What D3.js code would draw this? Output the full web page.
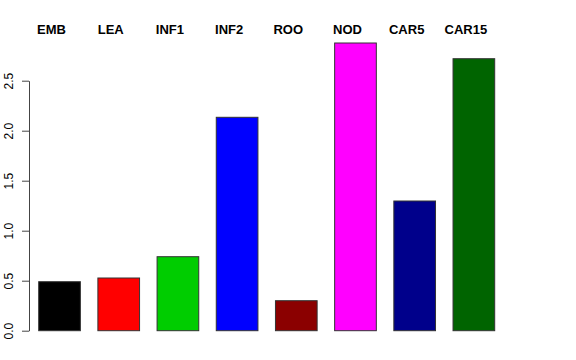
<!DOCTYPE html>
<html>
<head>
  <meta charset="utf-8">
  <script src="https://d3js.org/d3.v7.min.js"></script>
  <style>
    body { margin: 0; background: #fff; }
    .chart { display: block; }
    .label { font-family: "Liberation Sans", Arial, sans-serif; font-weight: bold; font-size: 13px; text-anchor: middle; }
    .tick-label { font-family: "Liberation Sans", Arial, sans-serif; font-size: 12px; }
  </style>
</head>
<body>
  <svg class="chart" width="576" height="360"></svg>
  <script>
    // data
    const categories = ["EMB", "LEA", "INF1", "INF2", "ROO", "NOD", "CAR5", "CAR15"];
    const values     = [0.49, 0.527, 0.74, 2.134, 0.30, 2.877, 1.297, 2.72];
    const colors     = ["#000000", "#FF0000", "#00CD00", "#0000FF", "#8B0000", "#FF00FF", "#00008B", "#006400"];
    const yTicks     = [0, 0.5, 1, 1.5, 2, 2.5];

    const svg = d3.select(".chart");

    const xScale = d3.scaleBand()
      .domain(categories)
      .range([38.7, 494.7])
      .paddingInner(0.296)
      .paddingOuter(0);

    const yScale = d3.scaleLinear().domain([0, 2.5]).range([330.7, 80.7]);

    // bars
    svg.selectAll(".bar")
      .data(categories)
      .enter().append("rect")
      .attr("class", "bar")
      .attr("x", d => xScale(d))
      .attr("width", xScale.bandwidth())
      .attr("y", (d, i) => yScale(values[i]))
      .attr("height", (d, i) => yScale(0) - yScale(values[i]))
      .attr("fill", (d, i) => colors[i])
      .attr("stroke", "#333")
      .attr("stroke-width", 1);

    // category labels along the top
    svg.selectAll(".label")
      .data(categories)
      .enter().append("text")
      .attr("class", "label")
      .attr("x", d => xScale(d) + xScale.bandwidth() / 2 - 8)
      .attr("y", 34)
      .text(d => d);

    // y axis, R style
    const yAxis = d3.axisLeft(yScale)
      .tickValues(yTicks)
      .tickFormat(d3.format(".1f"))
      .tickSize(7)
      .tickPadding(9)
      .tickSizeOuter(0);

    const gAxis = svg.append("g")
      .attr("transform", "translate(29,0)")
      .call(yAxis);

    gAxis.select(".domain").attr("stroke", "#444");
    gAxis.selectAll(".tick line").attr("stroke", "#444");
    gAxis.selectAll(".tick text")
      .attr("class", "tick-label")
      .attr("fill", "#000")
      .attr("transform", "rotate(-90)")
      .attr("x", 0)
      .attr("y", -16.5)
      .attr("dy", 0)
      .style("text-anchor", "middle");
  </script>
</body>
</html>
